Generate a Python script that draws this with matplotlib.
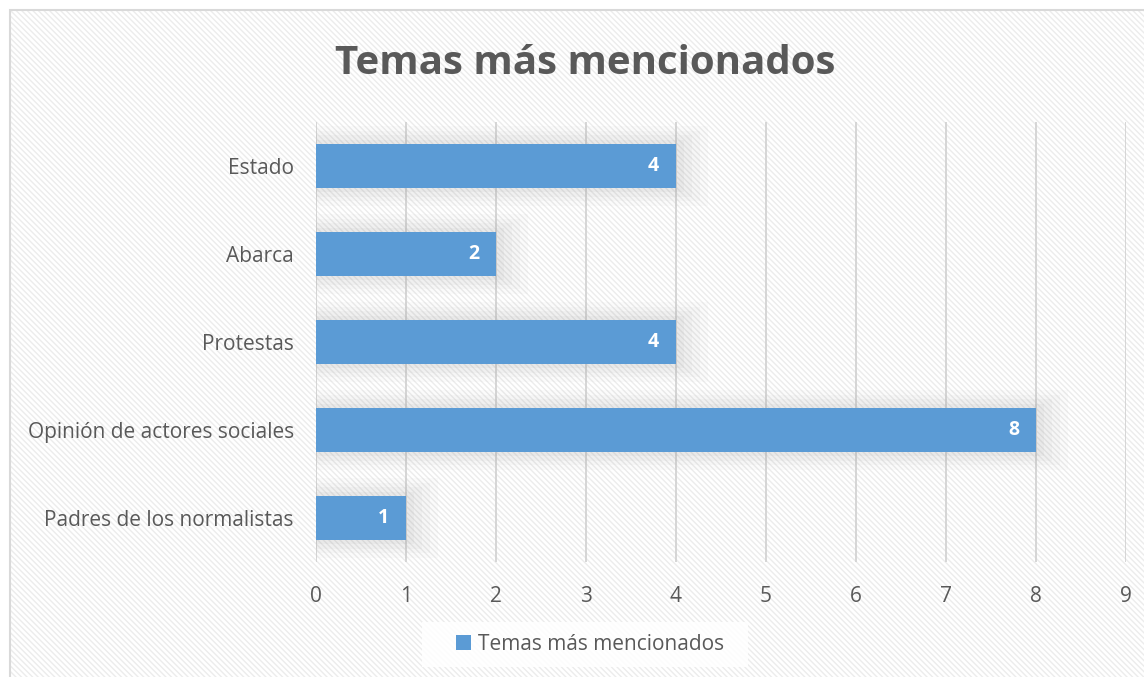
import matplotlib.pyplot as plt
from matplotlib.patches import Rectangle

categories = ["Padres de los normalistas", "Opinión de actores sociales",
              "Protestas", "Abarca", "Estado"]
values = [1, 8, 4, 2, 4]
x_ticks = [0, 1, 2, 3, 4, 5, 6, 7, 8, 9]
title = "Temas más mencionados"
series_name = "Temas más mencionados"

bar_color = "#5B9BD5"
text_color = "#595959"
plt.rcParams['font.family'] = ['Open Sans', 'DejaVu Sans']

W, H = 1144, 677
fig = plt.figure(figsize=(W / 100, H / 100), dpi=100)
fig.patch.set_facecolor("white")

# hatched chart background with grey border (clipped at right/bottom)
bg = Rectangle((10 / W, -0.05), 1.1, 1 - 10 / H + 0.05, transform=fig.transFigure,
               facecolor="white", edgecolor="#ececec", hatch="\\\\\\\\\\\\", linewidth=0,
               zorder=-10)
fig.patches.append(bg)
border = Rectangle((10 / W, -0.05), 1.1, 1 - 10 / H + 0.05, transform=fig.transFigure,
                   facecolor="none", edgecolor="#d9d9d9", linewidth=1.5, zorder=-9)
fig.patches.append(border)

ax = fig.add_axes([316 / W, 1 - 562 / H, 810 / W, 440 / H])
ax.patch.set_alpha(0)

ypos = list(range(len(categories)))

# soft shadow behind bars
for grow, alpha in [(0.4, 0.03), (0.3, 0.04), (0.2, 0.05), (0.1, 0.06)]:
    ax.barh(ypos, [v + grow * 0.9 for v in values], height=0.5 + grow,
            left=0, color="#888888", alpha=alpha, linewidth=0, zorder=1)

bars = ax.barh(ypos, values, height=0.5, color=bar_color, zorder=3,
               label=series_name)

for b, v in zip(bars, values):
    ax.text(b.get_width() - 0.25, b.get_y() + b.get_height() / 2, str(v),
            ha="center", va="center", color="white", fontsize=14,
            fontweight="bold", zorder=4)

ax.set_xlim(0, 9)
ax.set_ylim(-0.5, len(categories) - 0.5)
ax.set_xticks(x_ticks)
ax.set_yticks(ypos)
ax.set_yticklabels(categories)
ax.xaxis.grid(True, color="#d0d0d0", linewidth=1.2, zorder=0)
ax.set_axisbelow(True)
for s in ax.spines.values():
    s.set_visible(False)
ax.tick_params(axis="both", length=0, labelsize=15, colors=text_color)
ax.tick_params(axis="x", pad=17)
ax.tick_params(axis="y", pad=16)

fig.text(585 / W, 1 - 64 / H, title, ha="center", va="center",
         fontsize=29, fontweight="bold", color=text_color)

# legend box
lbox = Rectangle((422 / W, 1 - 667 / H), 326 / W, 45 / H, transform=fig.transFigure,
                 facecolor="white", edgecolor="none", alpha=0.85, zorder=-5)
fig.patches.append(lbox)
leg = fig.legend(handles=[bars], labels=[series_name], loc="center left",
                 bbox_to_anchor=(456 / W, 1 - 644 / H), frameon=False,
                 fontsize=15, handlelength=0.7, handleheight=0.7,
                 handletextpad=0.35, borderpad=0, borderaxespad=0,
                 labelcolor=text_color)

fig.savefig("out.png", dpi=100)
